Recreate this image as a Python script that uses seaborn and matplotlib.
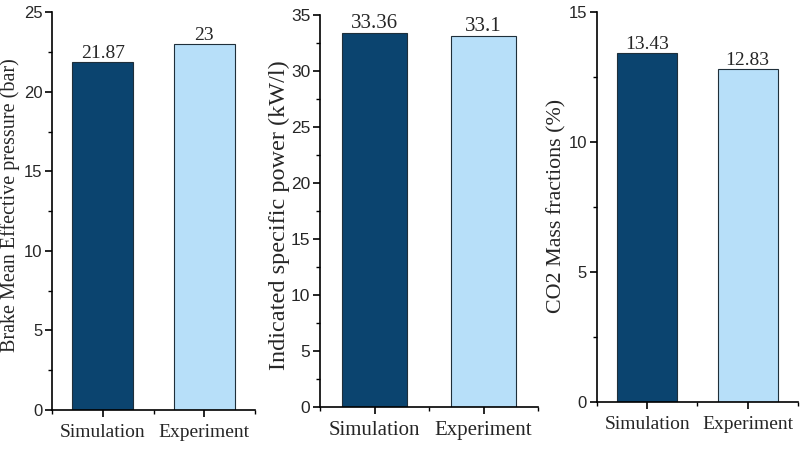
import matplotlib
matplotlib.use("Agg")
import matplotlib.pyplot as plt
import seaborn as sns
import pandas as pd
from matplotlib.ticker import MultipleLocator, FixedLocator

categories = ["Simulation", "Experiment"]
bmep = [21.87, 23]
isp = [33.36, 33.1]
co2 = [13.43, 12.83]
labels_bmep = ["21.87", "23"]
labels_isp = ["33.36", "33.1"]
labels_co2 = ["13.43", "12.83"]
ylabels = ["Brake Mean Effective pressure (bar)", "Indicated specific power (kW/l)", "CO2 Mass fractions (%)"]
ylims = [25, 35, 15]

sns.set_theme(style="ticks")
plt.rcParams["font.family"] = ["Liberation Sans", "DejaVu Sans"]

colors = ["#0b446f", "#b7dff9"]
fig = plt.figure(figsize=(8, 4.49), dpi=100)
rects = [
    [0.065, 0.0869, 0.254, 0.886],
    [0.400, 0.0935, 0.2725, 0.873],
    [0.746, 0.1047, 0.2515, 0.868],
]
label_pos = [(-0.205, 0.514), (-0.185, 0.49), (-0.2, 0.504)]
ylab_fs = [14.5, 17.5, 15.8]
txt_fs = [14, 15, 14]
ytick_fs = [12, 12.5, 12]
serif = "Liberation Serif"
for i, (rect, vals, labs, yl, ymax) in enumerate(zip(rects, [bmep, isp, co2], [labels_bmep, labels_isp, labels_co2], ylabels, ylims)):
    ax = fig.add_axes(rect)
    df = pd.DataFrame({"cat": categories, "val": vals})
    sns.barplot(data=df, x="cat", y="val", hue="cat", palette=colors, width=0.6,
                edgecolor="#1f2f3a", linewidth=0.8, legend=False, ax=ax, saturation=1)
    ax.set_xlim(-0.5, 1.5)
    ax.set_ylim(0, ymax)
    ax.yaxis.set_major_locator(MultipleLocator(5))
    ax.yaxis.set_minor_locator(MultipleLocator(2.5))
    ax.xaxis.set_minor_locator(FixedLocator([-0.5, 0.5, 1.5]))
    for s in ["top", "right"]:
        ax.spines[s].set_visible(False)
    for s in ["left", "bottom"]:
        ax.spines[s].set_linewidth(1.2)
        ax.spines[s].set_color("black")
    ax.tick_params(axis="both", which="major", direction="out", length=5, width=1.2, color="black")
    ax.tick_params(axis="both", which="minor", direction="out", length=3, width=1.0, color="black")
    ax.tick_params(axis="y", labelsize=ytick_fs[i], pad=2)
    ax.tick_params(axis="x", labelsize=txt_fs[i], pad=5)
    for t in ax.get_xticklabels():
        t.set_fontfamily(serif)
    ax.set_xlabel("")
    ax.set_ylabel(yl, fontfamily=serif, fontsize=ylab_fs[i], va="center")
    ax.yaxis.set_label_coords(*label_pos[i])
    for c, l in zip(ax.containers, [[labs[0]], [labs[1]]]):
        ax.bar_label(c, labels=l, fontfamily=serif, fontsize=txt_fs[i], padding=0)
    ax.set_facecolor("white")

fig.savefig("out.png", dpi=100, facecolor="white")
